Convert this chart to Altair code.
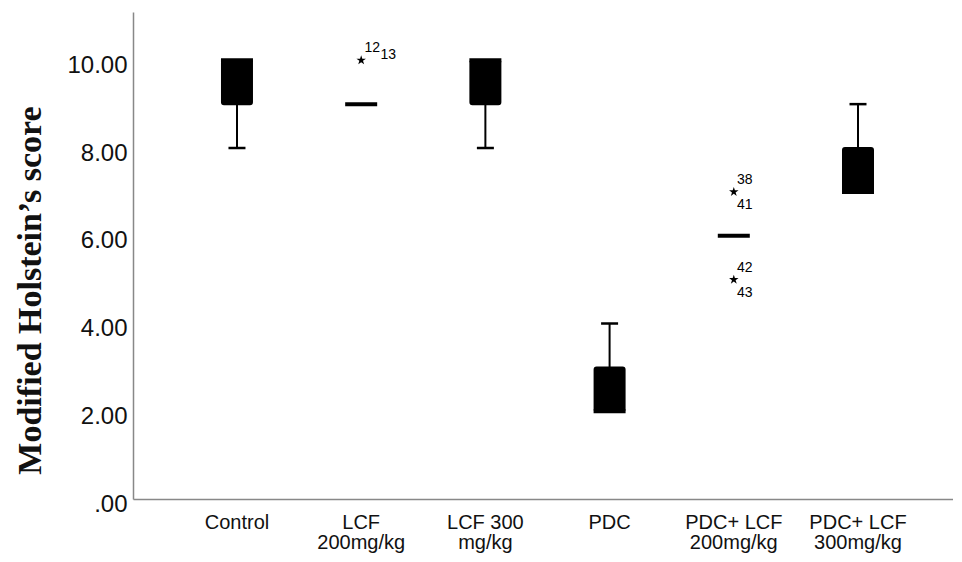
import altair as alt
import pandas as pd

# ---- data ----
groups = ["Control", "LCF\n200mg/kg", "LCF 300\nmg/kg", "PDC",
          "PDC+ LCF\n200mg/kg", "PDC+ LCF\n300mg/kg"]
q1 = [9, 9, 9, 2, 6, 7]
q3 = [10, 9, 10, 3, 6, 8]
medians = [10, 9, 10, 2, 6, 7]
whisker_low = [8, 9, 8, 2, 6, 7]
whisker_high = [10, 9, 10, 4, 6, 9]

out_group = ["LCF\n200mg/kg", "PDC+ LCF\n200mg/kg", "PDC+ LCF\n200mg/kg"]
out_value = [10, 7, 5]
out_id_a = ["12", "38", "42"]
out_id_b = ["13", "41", "43"]

y_ticks = [0, 2, 4, 6, 8, 10]

# ---- tables ----
box_df = pd.DataFrame({"group": groups, "q1": q1, "q3": q3, "median": medians})
seg_rows, cap_rows = [], []
for g, lo, a, b, hi in zip(groups, whisker_low, q1, q3, whisker_high):
    if lo < a:
        seg_rows.append({"group": g, "y1": lo, "y2": a})
        cap_rows.append({"group": g, "v": lo})
    if hi > b:
        seg_rows.append({"group": g, "y1": b, "y2": hi})
        cap_rows.append({"group": g, "v": hi})
seg_df = pd.DataFrame(seg_rows)
cap_df = pd.DataFrame(cap_rows)
out_df = pd.DataFrame({"group": out_group, "v": out_value,
                       "ida": out_id_a, "idb": out_id_b})

STAR = ("M0,-1L0.2245,-0.309L0.951,-0.309L0.363,0.118L0.588,0.809L0,0.382"
        "L-0.588,0.809L-0.363,0.118L-0.951,-0.309L-0.2245,-0.309Z")

x_enc = alt.X(
    "group:N", sort=groups,
    scale=alt.Scale(domain=groups, paddingInner=0, paddingOuter=0.301, align=0.56),
    axis=alt.Axis(title=None, labelExpr="split(datum.label, '\\n')", labelAngle=0,
                  labelFont="Liberation Sans", labelFontSize=20, labelLineHeight=20,
                  labelColor="#111", labelPadding=13, ticks=False,
                  domainColor="#888", domainWidth=1.5, labelBaseline="top"),
)
y_scale = alt.Scale(domain=[0, 11.1], nice=False)
y_axis = alt.Axis(
    title="Modified Holstein’s score", values=y_ticks,
    labelExpr="datum.value == 0 ? '.00' : format(datum.value, '.2f')",
    labelFont="Liberation Sans", labelFontSize=24, labelColor="#111",
    labelPadding=6, labelOffset=5, ticks=False, grid=False,
    domainColor="#888", domainWidth=1.5,
    titleFont="Liberation Serif", titleFontSize=34, titleFontWeight="bold",
    titleColor="#111", titleX=-93, titleY=278, titleAlign="center",
    titleBaseline="alphabetic", titleAngle=-90,
)

boxes = alt.Chart(box_df).mark_bar(width=30, color="black", stroke="black",
                                   strokeWidth=2, cornerRadius=2).encode(
    x=x_enc, y=alt.Y("q1:Q", scale=y_scale, axis=y_axis), y2="q3:Q")

med = alt.Chart(box_df).mark_tick(thickness=4, size=32, color="black", opacity=1).encode(
    x=alt.X("group:N", sort=groups), y="median:Q")

whisk = alt.Chart(seg_df).mark_rule(strokeWidth=2, color="black").encode(
    x=alt.X("group:N", sort=groups), y="y1:Q", y2="y2:Q")

caps = alt.Chart(cap_df).mark_tick(thickness=2.5, size=17, color="black", opacity=1).encode(
    x=alt.X("group:N", sort=groups), y="v:Q")

stars = alt.Chart(out_df).mark_point(shape=STAR, size=100, filled=True,
                                     color="black", opacity=1).encode(
    x=alt.X("group:N", sort=groups), y="v:Q")

txt = dict(font="Liberation Sans", fontSize=14, color="black",
           align="center", baseline="middle")
lab_a = alt.Chart(out_df).mark_text(dx=11, dy=-12, **txt).encode(
    x=alt.X("group:N", sort=groups), y="v:Q", text="ida:N")
lab_b1 = alt.Chart(out_df).transform_filter(
    alt.FieldEqualPredicate(field="group", equal=groups[1])
).mark_text(dx=27, dy=-5, **txt).encode(
    x=alt.X("group:N", sort=groups), y="v:Q", text="idb:N")
lab_b2 = alt.Chart(out_df).transform_filter(
    alt.FieldEqualPredicate(field="group", equal=groups[4])
).mark_text(dx=11, dy=13, **txt).encode(
    x=alt.X("group:N", sort=groups), y="v:Q", text="idb:N")

chart = alt.layer(boxes, whisk, caps, med, stars, lab_a, lab_b1, lab_b2).properties(
    width=820, height=487,
    autosize=alt.AutoSizeParams(type="none"),
    padding={"left": 125, "top": 4, "right": 0, "bottom": 55},
    background="white",
).configure_view(stroke=None)

chart.save("out.html", embed_options={"renderer": "svg", "actions": False})
